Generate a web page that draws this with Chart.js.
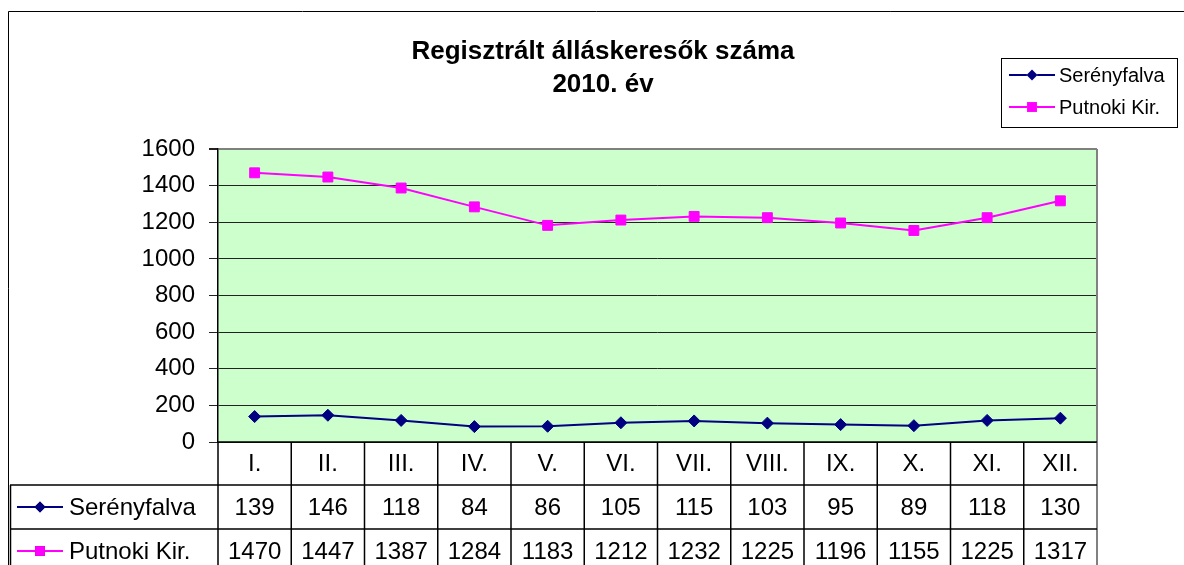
<!DOCTYPE html>
<html>
<head>
<meta charset="utf-8">
<script src="https://cdn.jsdelivr.net/npm/chart.js@4.4.1/dist/chart.umd.min.js"></script>
<style>
  html, body { margin: 0; padding: 0; background: #fff; }
  canvas { display: block; }
</style>
</head>
<body>
<canvas id="chart" width="1184" height="565"></canvas>
<script>
// Data
const months = ["I.", "II.", "III.", "IV.", "V.", "VI.", "VII.", "VIII.", "IX.", "X.", "XI.", "XII."];
const serenyfalva = [139, 146, 118, 84, 86, 105, 115, 103, 95, 89, 118, 130];
const putnoki = [1470, 1447, 1387, 1284, 1183, 1212, 1232, 1225, 1196, 1155, 1225, 1317];
const seriesNames = ["Serényfalva", "Putnoki Kir."];
const titleLines = ["Regisztrált álláskeresők száma", "2010. év"];

const FONT = "'Liberation Sans', Arial, sans-serif";
const NAVY = "#000080";
const MAGENTA = "#FF00FF";

// Draw a legend sample (line + marker)
function drawSample(ctx, x, y, color, style) {
  ctx.save();
  ctx.strokeStyle = color;
  ctx.lineWidth = 2;
  ctx.beginPath();
  ctx.moveTo(x, y);
  ctx.lineTo(x + 46, y);
  ctx.stroke();
  Chart.helpers.drawPoint(ctx, { pointStyle: style, radius: style === "rect" ? 7 : 5.5, rotation: 0 }, x + 23, y);
  ctx.fillStyle = color;
  ctx.fill();
  ctx.restore();
}

const excelPlugin = {
  id: "excelLook",
  beforeDraw(chart) {
    const { ctx, chartArea } = chart;
    ctx.save();
    // green plot area
    ctx.fillStyle = "#CCFFCC";
    ctx.fillRect(chartArea.left, chartArea.top, chartArea.right - chartArea.left, chartArea.bottom - chartArea.top);
    ctx.restore();
  },
  afterDraw(chart) {
    const { ctx, chartArea } = chart;
    const xScale = chart.scales.x;
    const left = chartArea.left, right = chartArea.right, bottom = chartArea.bottom;
    const colW = (right - left) / months.length;
    const row1 = bottom + 43, row2 = row1 + 44, tableBottom = 565;
    const tableLeft = 10;

    ctx.save();
    // outer chart border
    ctx.strokeStyle = "#000";
    ctx.lineWidth = 1;
    ctx.beginPath();
    ctx.moveTo(8.5, 565);
    ctx.lineTo(8.5, 11.5);
    ctx.lineTo(1184, 11.5);
    ctx.stroke();

    // plot border: gray right side
    ctx.strokeStyle = "#808080";
    ctx.lineWidth = 2;
    ctx.beginPath();
    ctx.moveTo(right, chartArea.top);
    ctx.lineTo(right, tableBottom);
    ctx.stroke();

    // table lines
    ctx.strokeStyle = "#000";
    ctx.lineWidth = 1.5;
    ctx.beginPath();
    ctx.moveTo(left, bottom);
    ctx.lineTo(right, bottom);
    ctx.moveTo(tableLeft, row1);
    ctx.lineTo(right, row1);
    ctx.moveTo(tableLeft, row2);
    ctx.lineTo(right, row2);
    ctx.moveTo(tableLeft + 0.5, row1);
    ctx.lineTo(tableLeft + 0.5, tableBottom);
    for (let i = 0; i < months.length; i++) {
      const x = left + i * colW;
      ctx.moveTo(x, bottom);
      ctx.lineTo(x, tableBottom);
    }
    ctx.stroke();

    // table text
    ctx.fillStyle = "#000";
    ctx.font = "24px " + FONT;
    ctx.textAlign = "center";
    ctx.textBaseline = "middle";
    months.forEach((m, i) => {
      const x = xScale.getPixelForValue(i);
      ctx.fillText(m, x, (bottom + row1) / 2 + 1);
      ctx.fillText(String(serenyfalva[i]), x, (row1 + row2) / 2 + 1);
      ctx.fillText(String(putnoki[i]), x, row2 + 23);
    });

    // row headers
    ctx.textAlign = "left";
    drawSample(ctx, 17, (row1 + row2) / 2, NAVY, "rectRot");
    drawSample(ctx, 17, row2 + 22, MAGENTA, "rect");
    ctx.fillStyle = "#000";
    ctx.font = "24px " + FONT;
    ctx.fillText(seriesNames[0], 69, (row1 + row2) / 2 + 1);
    ctx.fillText(seriesNames[1], 69, row2 + 23);

    // title
    ctx.font = "bold 26px " + FONT;
    ctx.textAlign = "center";
    ctx.fillText(titleLines[0], 603, 52);
    ctx.fillText(titleLines[1], 603, 85);

    // legend box
    ctx.strokeStyle = "#000";
    ctx.lineWidth = 1;
    ctx.fillStyle = "#fff";
    ctx.fillRect(1001.5, 58.5, 176, 69);
    ctx.strokeRect(1001.5, 58.5, 176, 69);
    drawSample(ctx, 1009, 75, NAVY, "rectRot");
    drawSample(ctx, 1009, 107, MAGENTA, "rect");
    ctx.fillStyle = "#000";
    ctx.font = "20px " + FONT;
    ctx.textAlign = "left";
    ctx.fillText(seriesNames[0], 1059, 76);
    ctx.fillText(seriesNames[1], 1059, 108);
    ctx.restore();
  }
};

new Chart(document.getElementById("chart"), {
  type: "line",
  data: {
    labels: months,
    datasets: [
      {
        label: seriesNames[0],
        data: serenyfalva,
        borderColor: NAVY,
        backgroundColor: NAVY,
        borderWidth: 2,
        pointStyle: "rectRot",
        pointRadius: 6,
        pointBorderWidth: 1,
        tension: 0,
      },
      {
        label: seriesNames[1],
        data: putnoki,
        borderColor: MAGENTA,
        backgroundColor: MAGENTA,
        borderWidth: 2,
        pointStyle: "rect",
        pointRadius: 7,
        pointBorderWidth: 1,
        tension: 0,
      },
    ],
  },
  options: {
    responsive: false,
    devicePixelRatio: 1,
    animation: false,
    layout: { padding: { left: 0, top: 149, right: 87, bottom: 123 } },
    plugins: {
      legend: { display: false },
      title: { display: false },
      tooltip: { enabled: false },
    },
    scales: {
      x: {
        type: "category",
        display: false,
        offset: true,
      },
      y: {
        min: 0,
        max: 1600,
        afterFit(scale) {
          scale.width = 218;
        },
        ticks: {
          stepSize: 200,
          color: "#000",
          padding: 14,
          font: { family: FONT, size: 24 },
          callback: (v) => String(v),
        },
        grid: {
          color: (c) => (c.tick && c.tick.value === 1600 ? "#808080" : "#222"),
          lineWidth: (c) => (c.tick && c.tick.value === 1600 ? 2 : 1),
          tickLength: 9,
          tickColor: "#222",
        },
        border: { display: true, color: "#000", width: 1.5 },
      },
    },
  },
  plugins: [excelPlugin],
});
</script>
</body>
</html>
